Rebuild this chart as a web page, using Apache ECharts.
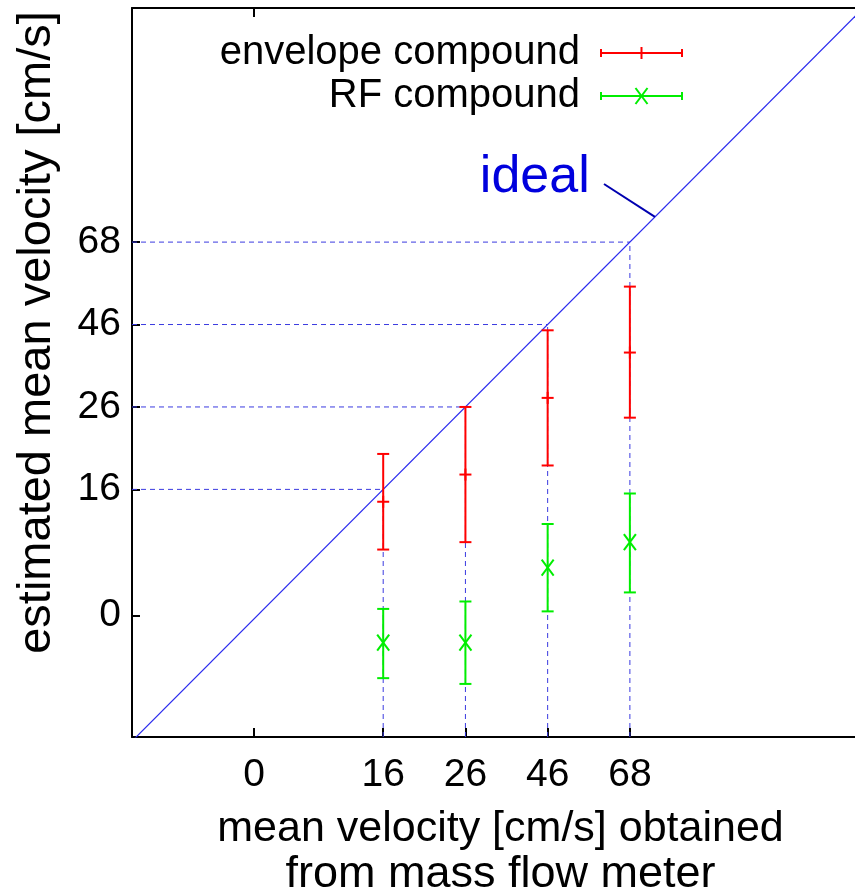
<!DOCTYPE html>
<html>
<head>
<meta charset="utf-8">
<script src="https://cdn.jsdelivr.net/npm/echarts@6/dist/echarts.min.js"></script>
<style>
  html, body { margin: 0; padding: 0; background: #ffffff; }
  #chart { width: 855px; height: 892px; }
</style>
</head>
<body>
<div id="chart"></div>
<script>
// Flow speeds set on the mass flow meter; each sits on an evenly spaced slot of the axes
const flowSlots = [1, 2, 3, 4];

// Tick labels [cm/s] and the slot each one sits on
const xTickLabels = ['0', '16', '26', '46', '68'];
const xTickSlots = [-0.57, 1, 2, 3, 4];
const yTickLabels = ['0', '16', '26', '46', '68'];
const yTickSlots = [-0.53, 1, 2, 3, 4];

// Estimated mean velocity (slot units): lower bound, mean, upper bound
const envelopeLow  = [0.27, 0.36, 1.29, 1.87];
const envelopeMean = [0.85, 1.18, 2.11, 2.66];
const envelopeHigh = [1.43, 2.00, 2.93, 3.46];
const rfLow  = [-1.29, -1.36, -0.48, -0.25];
const rfMean = [-0.86, -0.86, 0.05, 0.36];
const rfHigh = [-0.45, -0.36, 0.58, 0.95];

const seriesNames = ['envelope compound', 'RF compound'];
const seriesColors = ['#ff0000', '#00ee00'];
const idealLabel = 'ideal';
const xAxisTitleLines = ['mean velocity [cm/s] obtained', 'from mass flow meter'];
const yAxisTitle = 'estimated mean velocity [cm/s]';

// Axis ranges (slot units)
const xMin = -2.055, xMax = 7.2;
const yMin = -2.004, yMax = 6.84;

const FONT = 'Liberation Sans';

function rows(low, mean, high) {
  return flowSlots.map((s, i) => [s, low[i], mean[i], high[i]]);
}

function tickFormatter(slots, labels) {
  return function (v) {
    for (let i = 0; i < slots.length; i++) {
      if (Math.abs(slots[i] - v) < 1e-6) return labels[i];
    }
    return '';
  };
}

function seg(x1, y1, x2, y2, color, width, dash) {
  const style = { stroke: color, lineWidth: width, fill: null };
  if (dash) style.lineDash = dash;
  return { type: 'line', shape: { x1: x1, y1: y1, x2: x2, y2: y2 }, style: style };
}

// Vertical error bar with end caps and a centre marker
function errorBar(marker, color) {
  return function (params, api) {
    const x = api.value(0);
    const lo = api.coord([x, api.value(1)]);
    const mid = api.coord([x, api.value(2)]);
    const hi = api.coord([x, api.value(3)]);
    const cap = 6;
    const kids = [
      seg(lo[0], lo[1], hi[0], hi[1], color, 2),
      seg(lo[0] - cap, lo[1], lo[0] + cap, lo[1], color, 2),
      seg(hi[0] - cap, hi[1], hi[0] + cap, hi[1], color, 2)
    ];
    if (marker === 'plus') {
      kids.push(seg(mid[0] - cap, mid[1], mid[0] + cap, mid[1], color, 2));
      kids.push(seg(mid[0], mid[1] - cap, mid[0], mid[1] + cap, color, 2));
    } else {
      kids.push(seg(mid[0] - 6, mid[1] - 8, mid[0] + 6, mid[1] + 8, color, 2));
      kids.push(seg(mid[0] - 6, mid[1] + 8, mid[0] + 6, mid[1] - 8, color, 2));
    }
    return { type: 'group', children: kids };
  };
}

// Dashed guides from each axis up to the ideal line
function guide(params, api) {
  const s = api.value(0);
  const b = api.coord([s, yMin]);
  const p = api.coord([s, s]);
  const l = api.coord([xMin, s]);
  const c = '#3a3ae0';
  return {
    type: 'group',
    children: [
      seg(b[0], b[1], p[0], p[1], c, 1, [5, 4]),
      seg(l[0], l[1], p[0], p[1], c, 1, [5, 4])
    ]
  };
}

const chart = echarts.init(document.getElementById('chart'), null, { renderer: 'canvas' });

const axisLineStyle = { color: '#000000', width: 2 };

const option = {
  backgroundColor: '#ffffff',
  animation: false,
  textStyle: { fontFamily: FONT },
  grid: { left: 132, top: 8, width: 761, height: 729, containLabel: false, outerBoundsMode: 'none' },
  xAxis: [{
    type: 'value', min: xMin, max: xMax, position: 'bottom',
    axisLine: { show: true, onZero: false, lineStyle: axisLineStyle },
    axisTick: { show: true, inside: true, length: 9, customValues: xTickSlots, lineStyle: axisLineStyle },
    axisLabel: {
      show: true, customValues: xTickSlots, formatter: tickFormatter(xTickSlots, xTickLabels),
      color: '#000000', fontSize: 39, fontFamily: FONT, margin: 19
    },
    splitLine: { show: false },
    name: '{a|' + xAxisTitleLines[0] + '}\n{b|' + xAxisTitleLines[1] + '}',
    nameLocation: 'middle', nameGap: 70,
    nameTextStyle: {
      color: '#000000', fontFamily: FONT, align: 'center', padding: [0, 24, 0, 0],
      rich: {
        a: { fontSize: 43, lineHeight: 45, fontFamily: FONT, color: '#000000', align: 'center' },
        b: { fontSize: 45, lineHeight: 45, fontFamily: FONT, color: '#000000', align: 'center' }
      }
    }
  }, {
    type: 'value', min: xMin, max: xMax, position: 'top',
    axisLine: { show: true, onZero: false, lineStyle: axisLineStyle },
    axisTick: { show: true, inside: true, length: 9, customValues: [xTickSlots[0]], lineStyle: axisLineStyle },
    axisLabel: { show: false },
    splitLine: { show: false }
  }],
  yAxis: [{
    type: 'value', min: yMin, max: yMax, position: 'left',
    axisLine: { show: true, onZero: false, lineStyle: axisLineStyle },
    axisTick: { show: true, inside: true, length: 8, customValues: yTickSlots, lineStyle: axisLineStyle },
    axisLabel: {
      show: true, customValues: yTickSlots, formatter: tickFormatter(yTickSlots, yTickLabels),
      color: '#000000', fontSize: 39, fontFamily: FONT, margin: 11
    },
    splitLine: { show: false },
    name: yAxisTitle, nameLocation: 'middle', nameGap: 71,
    nameTextStyle: { color: '#000000', fontSize: 47, fontFamily: FONT, padding: [0, 0, 0, 80] }
  }],
  series: [
    {
      name: 'guides', type: 'custom', renderItem: guide,
      data: flowSlots.map(s => [s]), encode: { x: 0 }, z: 1, silent: true
    },
    {
      name: idealLabel, type: 'line', showSymbol: false, clip: true, silent: true,
      data: [[xMin - 0.2, xMin - 0.2], [xMax + 0.2, xMax + 0.2]],
      lineStyle: { color: '#2a2aee', width: 1.2 }, z: 2,
      markLine: {
        silent: true, symbol: 'none', animation: false,
        lineStyle: { color: '#0000b0', width: 2, type: 'solid' },
        label: {
          show: true, position: 'start', formatter: idealLabel, distance: [17, 12],
          color: '#0000dd', fontSize: 52, fontFamily: FONT
        },
        data: [[{ coord: [3.685, 4.705] }, { coord: [4.305, 4.305] }]]
      }
    },
    {
      name: seriesNames[0], type: 'custom', renderItem: errorBar('plus', seriesColors[0]),
      data: rows(envelopeLow, envelopeMean, envelopeHigh), encode: { x: 0, y: [1, 2, 3] }, z: 3
    },
    {
      name: seriesNames[1], type: 'custom', renderItem: errorBar('cross', seriesColors[1]),
      data: rows(rfLow, rfMean, rfHigh), encode: { x: 0, y: [1, 2, 3] }, z: 3
    }
  ],
  graphic: [
    // key: names on the left, error-bar samples on the right
    {
      type: 'group', silent: true,
      children: [0, 1].map(i => {
        const y = 53 + i * 43;
        const c = seriesColors[i];
        const kids = [
          { type: 'text', x: 580, y: y, style: { text: seriesNames[i], fill: '#000000', font: '40px "' + FONT + '"', align: 'right', verticalAlign: 'middle' } },
          seg(601, y, 682, y, c, 2),
          seg(601, y - 4, 601, y + 4, c, 2),
          seg(682, y - 4, 682, y + 4, c, 2)
        ];
        if (i === 0) {
          kids.push(seg(641.5, y - 6, 641.5, y + 6, c, 2));
        } else {
          kids.push(seg(635.5, y - 8, 647.5, y + 8, c, 2));
          kids.push(seg(635.5, y + 8, 647.5, y - 8, c, 2));
        }
        return { type: 'group', children: kids };
      })
    }
  ]
};

chart.setOption(option);
</script>
</body>
</html>
